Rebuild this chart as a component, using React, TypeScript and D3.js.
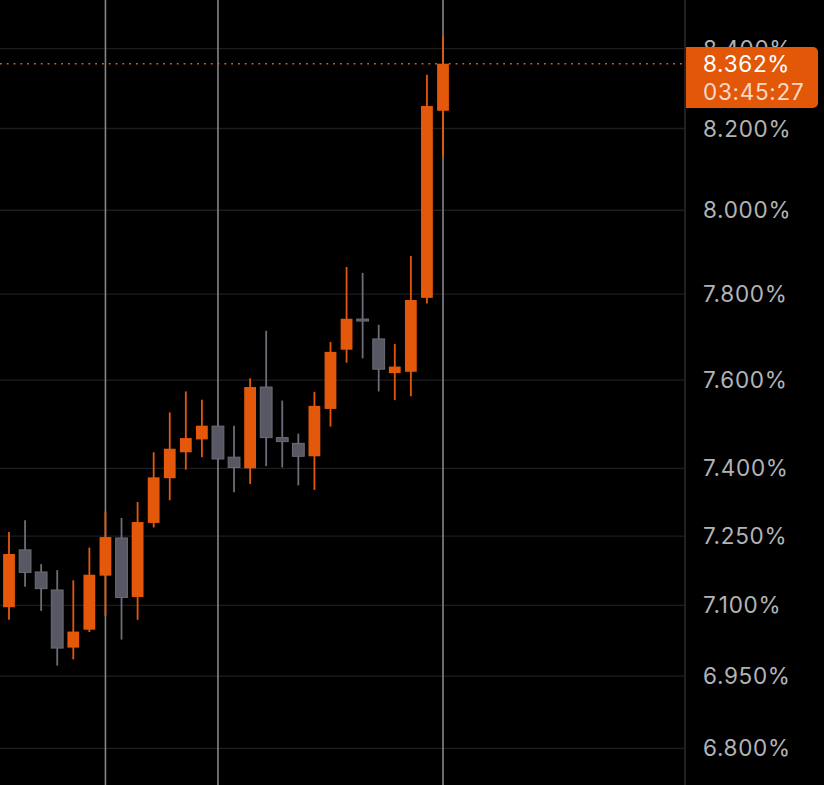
import { useMemo } from 'react';
import * as d3 from 'd3';

// 28 intraday candles, yield in %
const OPEN = [7.096, 7.22, 7.172, 7.133, 7.01, 7.048, 7.164, 7.246, 7.118, 7.279, 7.378, 7.436, 7.465, 7.495, 7.425, 7.4, 7.584, 7.469, 7.456, 7.427, 7.534, 7.67, 7.741, 7.695, 7.616, 7.619, 7.791, 8.244];
const HIGH = [7.259, 7.285, 7.189, 7.176, 7.154, 7.225, 7.304, 7.29, 7.325, 7.436, 7.526, 7.574, 7.555, 7.505, 7.496, 7.604, 7.714, 7.553, 7.478, 7.573, 7.688, 7.864, 7.85, 7.728, 7.683, 7.89, 8.334, 8.432];
const LOW = [7.069, 7.14, 7.088, 6.972, 6.985, 7.043, 7.077, 7.027, 7.069, 7.269, 7.329, 7.397, 7.425, 7.415, 7.347, 7.365, 7.405, 7.402, 7.362, 7.352, 7.494, 7.64, 7.65, 7.574, 7.554, 7.563, 7.778, 8.13];
const CLOSE = [7.211, 7.171, 7.136, 7.009, 7.044, 7.166, 7.248, 7.117, 7.281, 7.38, 7.444, 7.468, 7.496, 7.421, 7.402, 7.584, 7.469, 7.46, 7.427, 7.541, 7.665, 7.742, 7.737, 7.625, 7.631, 7.786, 8.256, 8.362];

// candle indexes where a session separator is drawn
const SEPARATORS = [6, 13, 27];

const Y_TICKS = [8.4, 8.2, 8.0, 7.8, 7.6, 7.4, 7.25, 7.1, 6.95, 6.8];
const LAST_PRICE = 8.362;
const COUNTDOWN = '03:45:27';

const W = 824;
const H = 785;
const UP = '#e4580c';
const DOWN_FILL = '#575863';
const DOWN_EDGE = '#6c6d78';
const FONT = 'Inter, "Noto Sans", sans-serif';

export default function App() {
  const axisX = 685;

  const { x, y } = useMemo(() => {
    const x = d3.scaleLinear().domain([0, OPEN.length - 1]).range([9, 443]);
    const y = d3.scaleLog().domain([6.8, 8.4]).range([748.3, 48.7]);
    return { x, y };
  }, []);

  const bodyW = 11.8;
  const fmt = (v: number) => `${v.toFixed(3)}%`;

  return (
    <div style={{ position: 'absolute', left: 0, top: 0, width: W, height: H, background: '#000' }}>
      <svg width={W} height={H} style={{ display: 'block' }}>
        <rect width={W} height={H} fill="#000" />

        {/* horizontal grid */}
        {Y_TICKS.map((v) => (
          <line key={v} x1={0} x2={axisX} y1={y(v)} y2={y(v)} stroke="#1d1d1f" strokeWidth={1.3} />
        ))}

        {/* session separators */}
        {SEPARATORS.map((i) => (
          <line key={`s${i}`} x1={x(i)} x2={x(i)} y1={0} y2={H} stroke="#858585" strokeWidth={1.6} />
        ))}

        {/* last price dotted line */}
        <line
          x1={0}
          x2={axisX}
          y1={y(LAST_PRICE)}
          y2={y(LAST_PRICE)}
          stroke="#c9653a"
          strokeWidth={1.6}
          strokeDasharray="1.8 5"
        />

        {/* candles */}
        {OPEN.map((o, i) => {
          const c = CLOSE[i];
          const up = c >= o;
          const cx = x(i);
          const top = y(Math.max(o, c));
          const bot = y(Math.min(o, c));
          const h = Math.max(2, bot - top);
          return (
            <g key={i}>
              <line
                x1={cx}
                x2={cx}
                y1={y(HIGH[i])}
                y2={y(LOW[i])}
                stroke={up ? UP : DOWN_EDGE}
                strokeWidth={1.8}
              />
              <rect
                x={cx - bodyW / 2}
                y={top - (h - (bot - top)) / 2}
                width={bodyW}
                height={h}
                fill={up ? UP : DOWN_FILL}
                stroke={up ? 'none' : DOWN_EDGE}
                strokeWidth={up ? 0 : 1}
              />
            </g>
          );
        })}

        {/* right axis */}
        <line x1={axisX} x2={axisX} y1={0} y2={H} stroke="#2a2a2c" strokeWidth={1.6} />
        {Y_TICKS.map((v) => (
          <text
            key={`t${v}`}
            x={703}
            y={y(v)}
            dy="0.36em"
            fontSize={22.5}
            fontFamily={FONT}
            fill="#b3b3b6"
            letterSpacing={0.7}
          >
            {fmt(v)}
          </text>
        ))}

        {/* last price tag, drawn over the 8.400% label as in the source */}
        <path
          d={`M${axisX + 1},47 H813 a5,5 0 0 1 5,5 V103 a5,5 0 0 1 -5,5 H${axisX + 1} Z`}
          fill="#e35708"
        />
        <text x={703} y={72} fontSize={22.5} fontFamily={FONT} fill="#fff" letterSpacing={0.7}>
          {fmt(LAST_PRICE)}
        </text>
        <text x={703} y={100} fontSize={22.5} fontFamily={FONT} fill="#fff" fillOpacity={0.78} letterSpacing={0.7}>
          {COUNTDOWN}
        </text>
      </svg>
    </div>
  );
}
